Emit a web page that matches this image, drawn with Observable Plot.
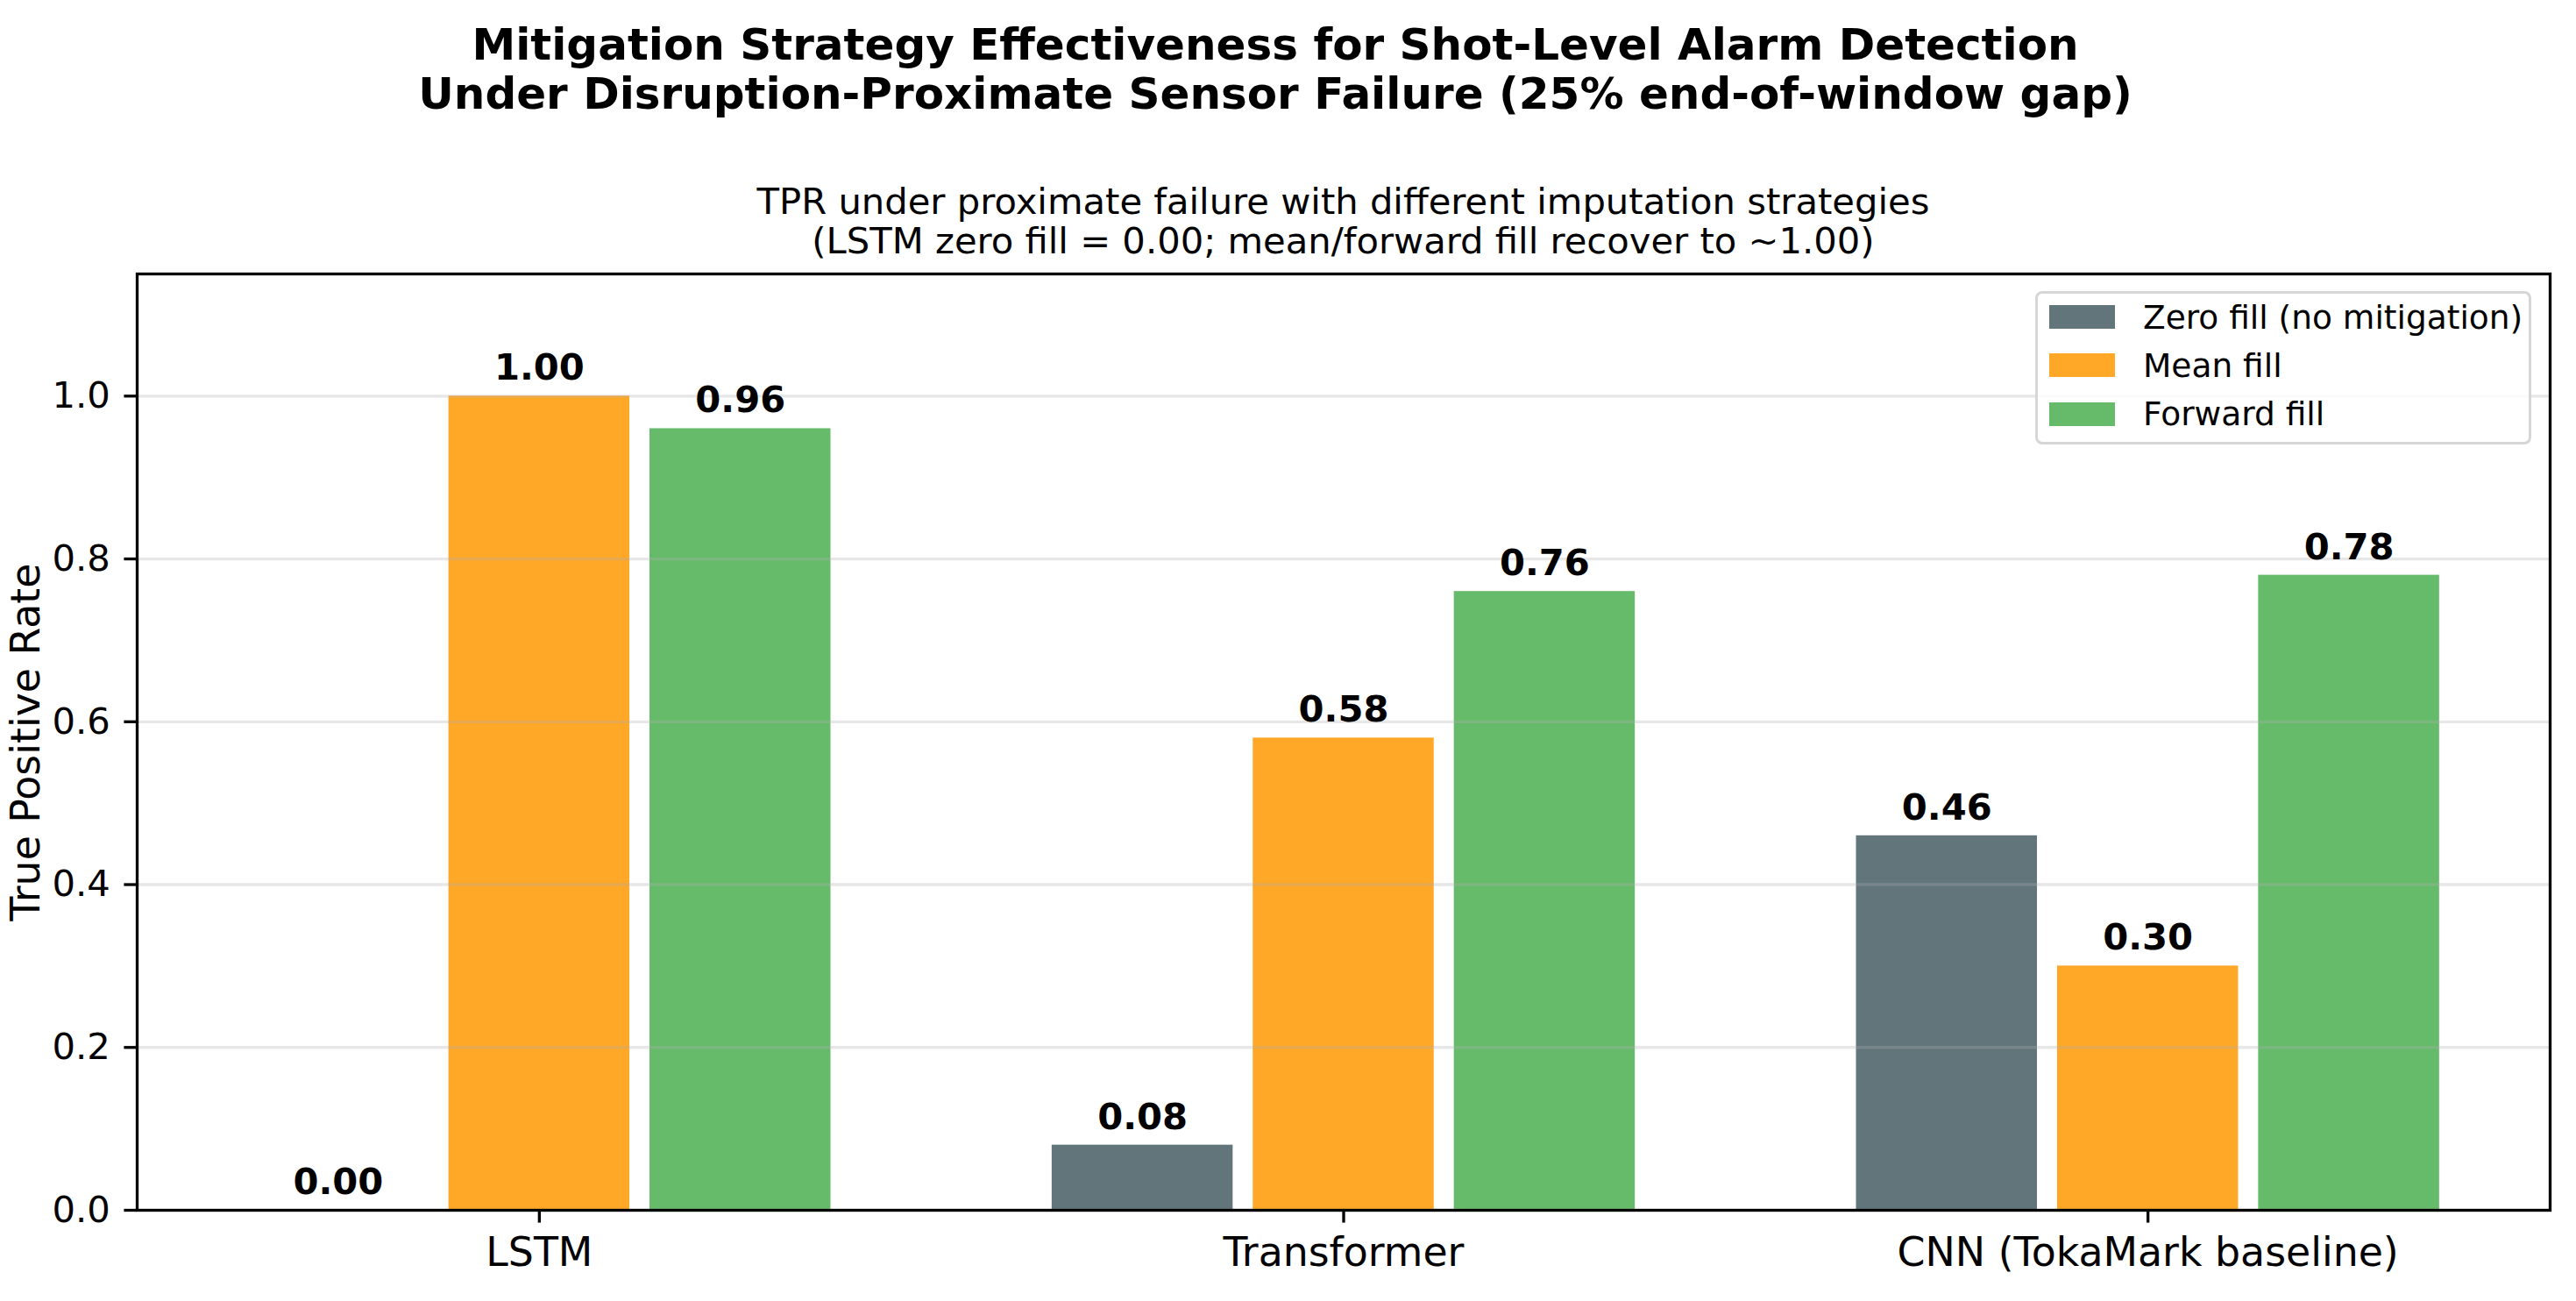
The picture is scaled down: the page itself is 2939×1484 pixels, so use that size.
<!DOCTYPE html>
<html>
<head>
<meta charset="utf-8">
<script src="https://cdn.jsdelivr.net/npm/d3@7"></script>
<script src="https://cdn.jsdelivr.net/npm/@observablehq/plot@0.6"></script>
<style>
  body { margin: 0; background: #fff; }
  #wrap { position: relative; width: 2939px; height: 1484px; font-family: "DejaVu Sans", sans-serif; color: #000; background: #fff; }
  #header { position: relative; height: 290px; }
  #title { position: absolute; left: 0; top: 23px; width: 2910px; text-align: center; font-weight: bold; font-size: 50px; line-height: 56px; }
  #subtitle { position: absolute; left: 156px; width: 2753px; top: 207px; text-align: center; font-size: 41.7px; line-height: 45px; }
  #legend { position: absolute; left: 2322px; top: 332px; width: 566px; height: 175px; box-sizing: border-box; border: 3px solid #d6d6d6; border-radius: 8px; background: rgba(255,255,255,0.8); }
  .lrow { position: absolute; left: 13px; height: 50px; display: flex; align-items: center; font-size: 37.5px; white-space: nowrap; }
  .lpatch { width: 75px; height: 27px; margin-right: 32px; }
  #chart svg { display: block; }
</style>
</head>
<body>
<div id="wrap">
  <div id="header">
    <div id="title"></div>
    <div id="subtitle"></div>
  </div>
  <div id="chart"></div>
  <div id="legend"></div>
</div>
<script>
// ---- data ----
const titleLines = [
  "Mitigation Strategy Effectiveness for Shot-Level Alarm Detection",
  "Under Disruption-Proximate Sensor Failure (25% end-of-window gap)"
];
const subtitleLines = [
  "TPR under proximate failure with different imputation strategies",
  "(LSTM zero fill = 0.00; mean/forward fill recover to ~1.00)"
];
const models = ["LSTM", "Transformer", "CNN (TokaMark baseline)"];
const strategies = ["Zero fill (no mitigation)", "Mean fill", "Forward fill"];
const zeroFill = [0.00, 0.08, 0.46];
const meanFill = [1.00, 0.58, 0.30];
const forwardFill = [0.96, 0.76, 0.78];
const colors = ["#61757B", "#FFA726", "#66BB6A"];
const yTicks = [0, 0.2, 0.4, 0.6, 0.8, 1.0];
const yLabel = "True Positive Rate";

// ---- header ----
document.getElementById("title").innerHTML = titleLines.join("<br>");
document.getElementById("subtitle").innerHTML = subtitleLines.join("<br>");

// ---- table ----
const series = [zeroFill, meanFill, forwardFill];
const barStep = 0.25, barWidth = 0.225;
const rows = [];
series.forEach((vals, j) => vals.forEach((v, i) => {
  const c = i + (j - 1) * barStep;
  rows.push({model: models[i], strategy: strategies[j], value: v, xc: c, x1: c - barWidth / 2, x2: c + barWidth / 2});
}));

const chart = Plot.plot({
  width: 2939,
  height: 1194,
  marginTop: 22,
  marginBottom: 104,
  marginLeft: 156,
  marginRight: 30,
  style: {fontFamily: "DejaVu Sans", background: "white", color: "black", overflow: "visible"},
  x: {type: "linear", domain: [-0.5, 2.5]},
  y: {domain: [0, 1.15]},
  color: {domain: strategies, range: colors},
  marks: [
    Plot.rect(rows, {x1: "x1", x2: "x2", y1: 0, y2: "value", fill: "strategy"}),
    Plot.gridY(yTicks, {stroke: "#b0b0b0", strokeOpacity: 0.3, strokeWidth: 3.3}),
    Plot.text(rows, {x: "xc", y: d => d.value + 0.02, text: d => d.value.toFixed(2), lineAnchor: "bottom", textAnchor: "middle", fontWeight: "bold", fontSize: 41.7, fill: "black"}),
    Plot.axisY({ticks: yTicks, tickFormat: d3.format(".1f"), tickSize: 14.6, tickPadding: 16, fontSize: 41.7, strokeWidth: 3.3, label: null}),
    Plot.axisX({ticks: [0, 1, 2], tickFormat: i => models[i], tickSize: 14.6, tickPadding: 16, fontSize: 45.8, strokeWidth: 3.3, label: null}),
    Plot.text([yLabel], {text: d => d, frameAnchor: "left", rotate: -90, dx: -112, lineAnchor: "bottom", textAnchor: "middle", fontSize: 45.8, fill: "black"}),
    Plot.frame({stroke: "black", strokeWidth: 3.3})
  ]
});
document.getElementById("chart").appendChild(chart);

// ---- legend ----
const legend = document.getElementById("legend");
const rowCenters = [29.5, 84.5, 140];
strategies.forEach((s, j) => {
  const r = document.createElement("div");
  r.className = "lrow";
  r.style.top = (rowCenters[j] - 25 - 3) + "px";
  const p = document.createElement("div");
  p.className = "lpatch";
  p.style.background = colors[j];
  const t = document.createElement("span");
  t.textContent = s;
  r.appendChild(p);
  r.appendChild(t);
  legend.appendChild(r);
});
</script>
</body>
</html>
